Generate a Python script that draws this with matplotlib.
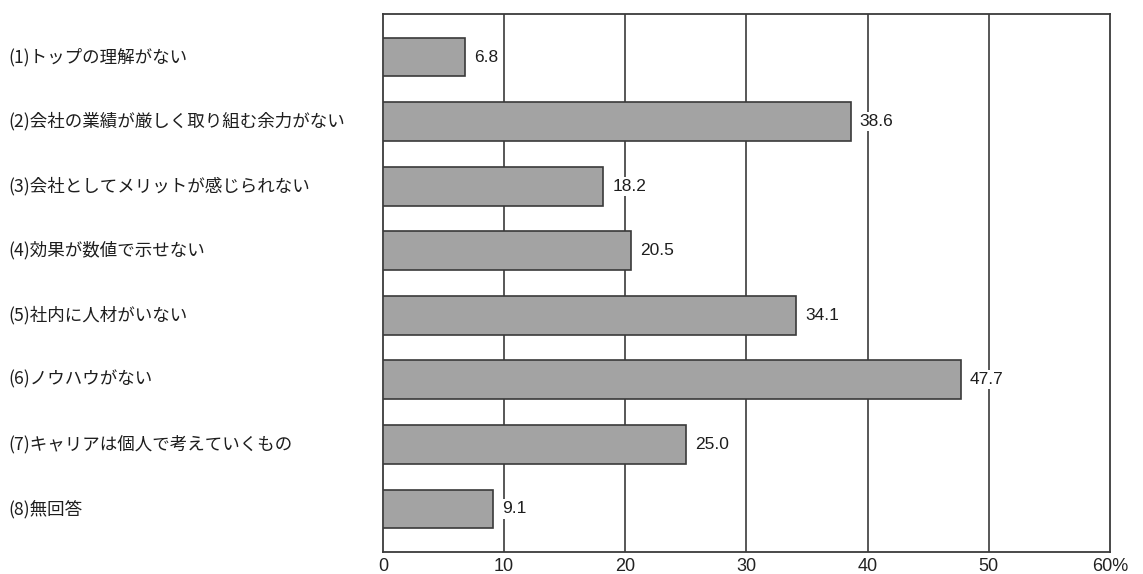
import matplotlib
matplotlib.use('Agg')
import matplotlib.pyplot as plt

plt.rcParams['font.family'] = ['Noto Sans CJK JP', 'DejaVu Sans']

labels = ['(1)トップの理解がない',
          '(2)会社の業績が厳しく取り組む余力がない',
          '(3)会社としてメリットが感じられない',
          '(4)効果が数値で示せない',
          '(5)社内に人材がいない',
          '(6)ノウハウがない',
          '(7)キャリアは個人で考えていくもの',
          '(8)無回答']
values = [6.8, 38.6, 18.2, 20.5, 34.1, 47.7, 25.0, 9.1]
ticks = [0, 10, 20, 30, 40, 50, 60]
tick_labels = ['0', '10', '20', '30', '40', '50', '60%']

fig = plt.figure(figsize=(11.43, 5.74), dpi=100)
ax = fig.add_axes([0.335, 0.038, 0.636, 0.938])

ypos = list(range(len(values)))
ax.barh(ypos, values, height=0.6, color='#a3a3a3', edgecolor='#3a3a3a',
        linewidth=1.2, zorder=3)

# vertical grid lines, drawn under the bars
for x in ticks[1:-1]:
    ax.axvline(x, color='#4a4a4a', lw=1.3, zorder=1)

num_font = ['Liberation Sans', 'DejaVu Sans']
for y, v in zip(ypos, values):
    ax.text(v + 0.75, y, f'{v:.1f}', va='center', ha='left', fontsize=12.5,
            family=num_font, color='#1e1e1e', zorder=4,
            bbox=dict(facecolor='white', edgecolor='none', pad=1.5))

ax.set_xlim(0, 60)
ax.set_ylim(len(values) - 0.33, -0.67)
ax.set_xticks(ticks)
ax.set_xticklabels(tick_labels, fontsize=13,
                   family=['Liberation Sans Narrow', 'Liberation Sans', 'DejaVu Sans'],
                   color='#222222')
ax.tick_params(axis='x', length=0, pad=4)
ax.set_yticks([])
for s in ax.spines.values():
    s.set_color('#3a3a3a')
    s.set_linewidth(1.3)

# category names sit at the left edge of the figure
for y, lab in zip(ypos, labels):
    ax.annotate(lab, xy=(0, y), xycoords=('figure fraction', 'data'),
                xytext=(6, 0), textcoords='offset points', va='center',
                ha='left', fontsize=12.6, color='#1e1e1e')

fig.savefig('out.png', dpi=100)
